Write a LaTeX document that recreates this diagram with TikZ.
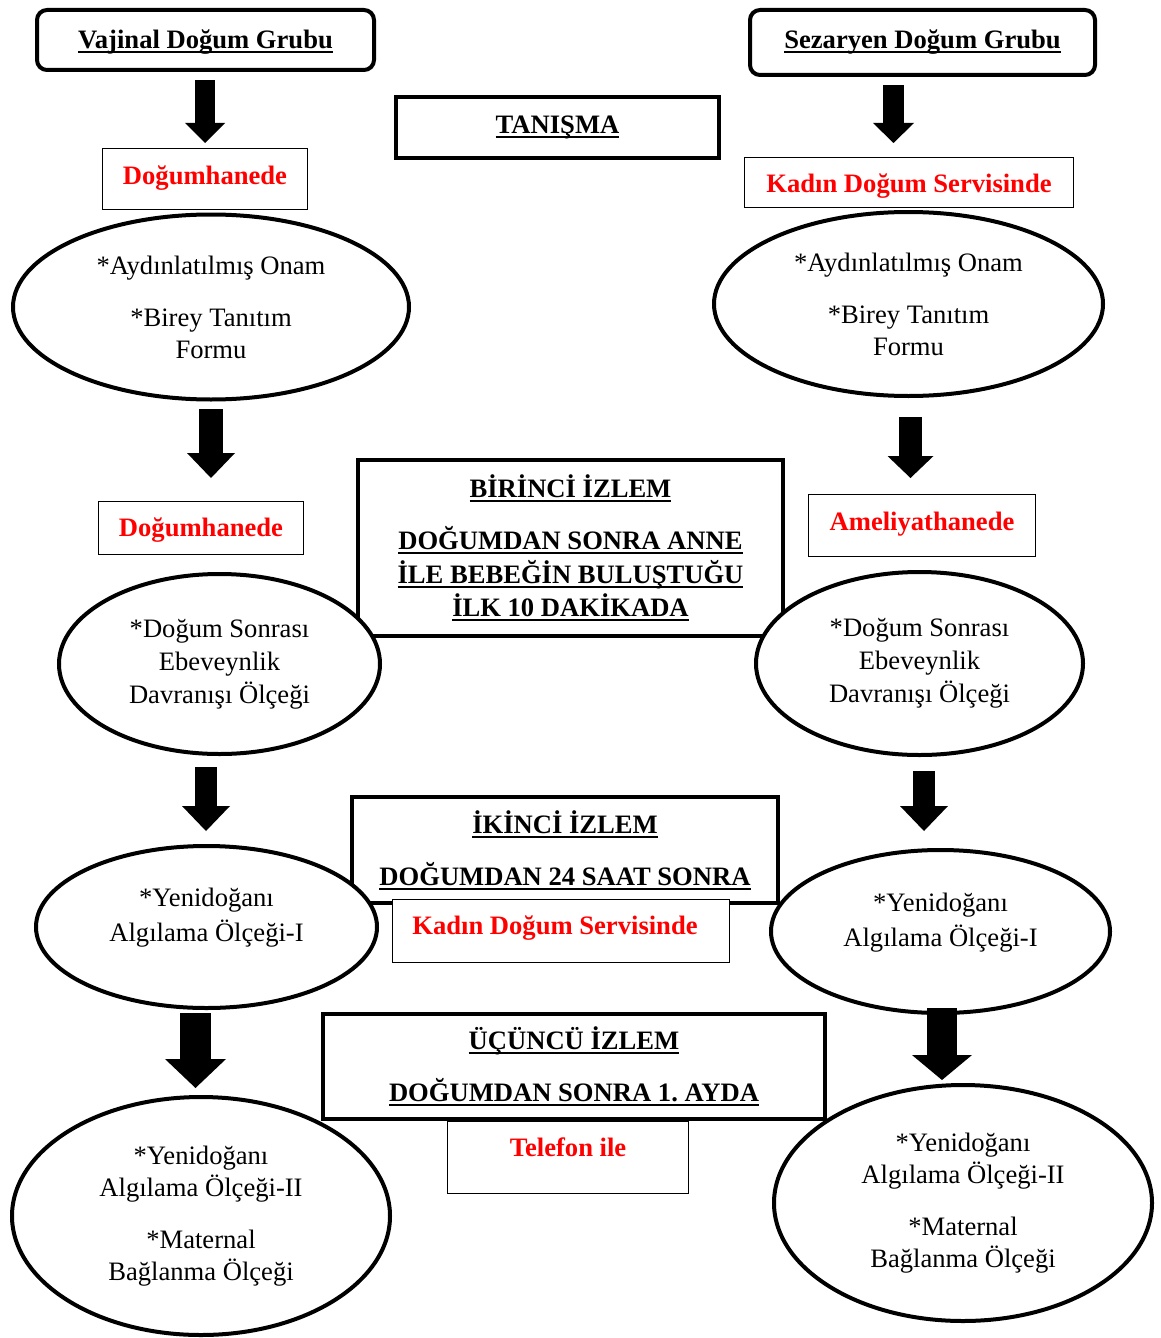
\documentclass[tikz,border=0pt]{standalone}
\usepackage{fontspec}
\setmainfont{Liberation Serif}
\usepackage{xcolor}
\usetikzlibrary{arrows.meta,shapes.geometric}
\definecolor{placered}{RGB}{255,0,0}
\newcommand{\undl}[1]{\leavevmode\setbox0=\hbox{#1}\rlap{\rule[-2.2pt]{\wd0}{1pt}}\box0}
\tikzset{%
    groupbox/.style={draw,line width=2pt,rounded corners=5pt,fill=white,inner sep=0pt,anchor=north,font=\bfseries},
    stagebox/.style={draw,line width=2pt,fill=white,inner sep=0pt,align=center,font=\bfseries},
    placebox/.style={draw,line width=0.7pt,fill=white,inner sep=0pt,anchor=north,text=placered,font=\bfseries},
    scaleoval/.style={draw,ellipse,line width=2pt,fill=white,inner sep=0pt,align=center},
    blockarrow/.style n args={3}{line width=#1,-{Triangle[width=#2,length=#3,line width=0pt]}}
}

\begin{document}
\frenchspacing
\fontsize{13.3}{16}\selectfont
\begin{tikzpicture}[x=0.5pt,y=-0.5pt]
	\useasboundingbox (0,0) rectangle (1161,1338);

	\node[groupbox,minimum width=168.5pt,text height=19.5pt,text depth=10.5pt] (vaj) at (205.5,8) {\undl{Vajinal Doğum Grubu}};
	\node[groupbox,minimum width=172.5pt,text height=19.5pt,text depth=13pt] (sez) at (922.5,8) {\undl{Sezaryen Doğum Grubu}};
	\node[stagebox,minimum width=161.5pt,minimum height=30.5pt] (tan) at (557.5,127.5) {\undl{TANIŞMA}};

	\node[stagebox,minimum width=212.5pt,minimum height=88pt] (izl1) at (570.5,548) {\undl{BİRİNCİ İZLEM}\\[10pt]\undl{DOĞUMDAN SONRA ANNE}\\[0.75pt]\undl{İLE BEBEĞİN BULUŞTUĞU}\\[0.75pt]\undl{İLK 10 DAKİKADA}};
	\node[stagebox,minimum width=213pt,minimum height=53pt] (izl2) at (565,850) {\undl{İKİNCİ İZLEM}\\[10pt]\undl{DOĞUMDAN 24 SAAT SONRA}};
	\node[stagebox,minimum width=251pt,minimum height=52.5pt] (izl3) at (574,1066.5) {\undl{ÜÇÜNCÜ İZLEM}\\[10pt]\undl{DOĞUMDAN SONRA 1. AYDA}};

	\node[scaleoval,minimum width=198pt,minimum height=92.5pt] (onamL) at (211,307) {*Aydınlatılmış Onam\\[10pt]*Birey Tanıtım\\Formu};
	\node[scaleoval,minimum width=194.5pt,minimum height=92pt] (onamR) at (908.5,304) {*Aydınlatılmış Onam\\[10pt]*Birey Tanıtım\\Formu};

	\node[scaleoval,minimum width=160.5pt,minimum height=90pt] (edsL) at (219.5,664) {*Doğum Sonrası\\[0.5pt]Ebeveynlik\\[0.5pt]Davranışı Ölçeği};
	\node[scaleoval,minimum width=163.5pt,minimum height=91.5pt] (edsR) at (919.5,663.5) {*Doğum Sonrası\\[0.5pt]Ebeveynlik\\[0.5pt]Davranışı Ölçeği};

	\node[scaleoval,minimum width=170.5pt,minimum height=81pt] (ynaL) at (206.5,927) {*Yenidoğanı\\[1.5pt]Algılama Ölçeği-I\\[-4pt]\mbox{}};
	\node[scaleoval,minimum width=169.5pt,minimum height=81.5pt] (ynaR) at (940.5,931.5) {*Yenidoğanı\\[1.5pt]Algılama Ölçeği-I\\[-4pt]\mbox{}};

	\node[scaleoval,minimum width=189pt,minimum height=119pt] (mbaL) at (201,1216) {*Yenidoğanı\\Algılama Ölçeği-II\\[10pt]*Maternal\\Bağlanma Ölçeği};
	\node[scaleoval,minimum width=189pt,minimum height=118pt] (mbaR) at (963,1203) {*Yenidoğanı\\Algılama Ölçeği-II\\[10pt]*Maternal\\Bağlanma Ölçeği};

	\node[placebox,minimum width=102.5pt,text height=17.75pt,text depth=12.75pt] (dog1) at (205,148) {Doğumhanede};
	\node[placebox,minimum width=164.5pt,text height=17.25pt,text depth=7.75pt] (kds1) at (909,157) {Kadın Doğum Servisinde};
	\node[placebox,minimum width=102.5pt,text height=17.25pt,text depth=9.25pt] (dog2) at (201,501) {Doğumhanede};
	\node[placebox,minimum width=113.5pt,text height=17.75pt,text depth=13.25pt] (ame) at (922,494) {Ameliyathanede};
	\node[placebox,minimum width=168.5pt,text height=17.25pt,text depth=14.25pt] (kds2) at (561,899) {Kadın Doğum Servisinde\kern6pt};
	\node[placebox,minimum width=120.5pt,text height=17.25pt,text depth=18.75pt] (tel) at (568,1121) {Telefon ile};

	\coordinate (la1) at (205,80);
	\coordinate (ra1) at (893.5,85);
	\coordinate (la2) at (211,409);
	\coordinate (ra2) at (910.5,417);
	\coordinate (la3) at (206,767);
	\coordinate (ra3) at (924,771);
	\coordinate (la4) at (195.5,1013);
	\coordinate (ra4) at (942,1008);

	\draw[blockarrow={10pt}{20pt}{10pt},shorten >=2.5pt] (la1) -- (la1 |- dog1.north);
	\draw[blockarrow={10.5pt}{20.5pt}{10pt},shorten >=7pt] (ra1) -- (ra1 |- kds1.north);
	\draw[blockarrow={12pt}{24pt}{12.5pt},shorten >=11.5pt] (la2) -- (la2 |- dog2.north);
	\draw[blockarrow={11.5pt}{23pt}{11pt},shorten >=8pt] (ra2) -- (ra2 |- ame.north);
	\draw[blockarrow={11pt}{24pt}{12.5pt},shorten >=6.5pt] (la3) -- (la3 |- ynaL.north);
	\draw[blockarrow={11pt}{24pt}{12.5pt},shorten >=8.5pt] (ra3) -- (ra3 |- ynaR.north);
	\draw[blockarrow={15.5pt}{30.5pt}{14.5pt},shorten >=3.5pt] (la4) -- (la4 |- mbaL.north);
	\draw[blockarrow={15pt}{30pt}{12.5pt},shorten >=1.5pt] (ra4) -- (ra4 |- mbaR.north);
\end{tikzpicture}
\end{document}
